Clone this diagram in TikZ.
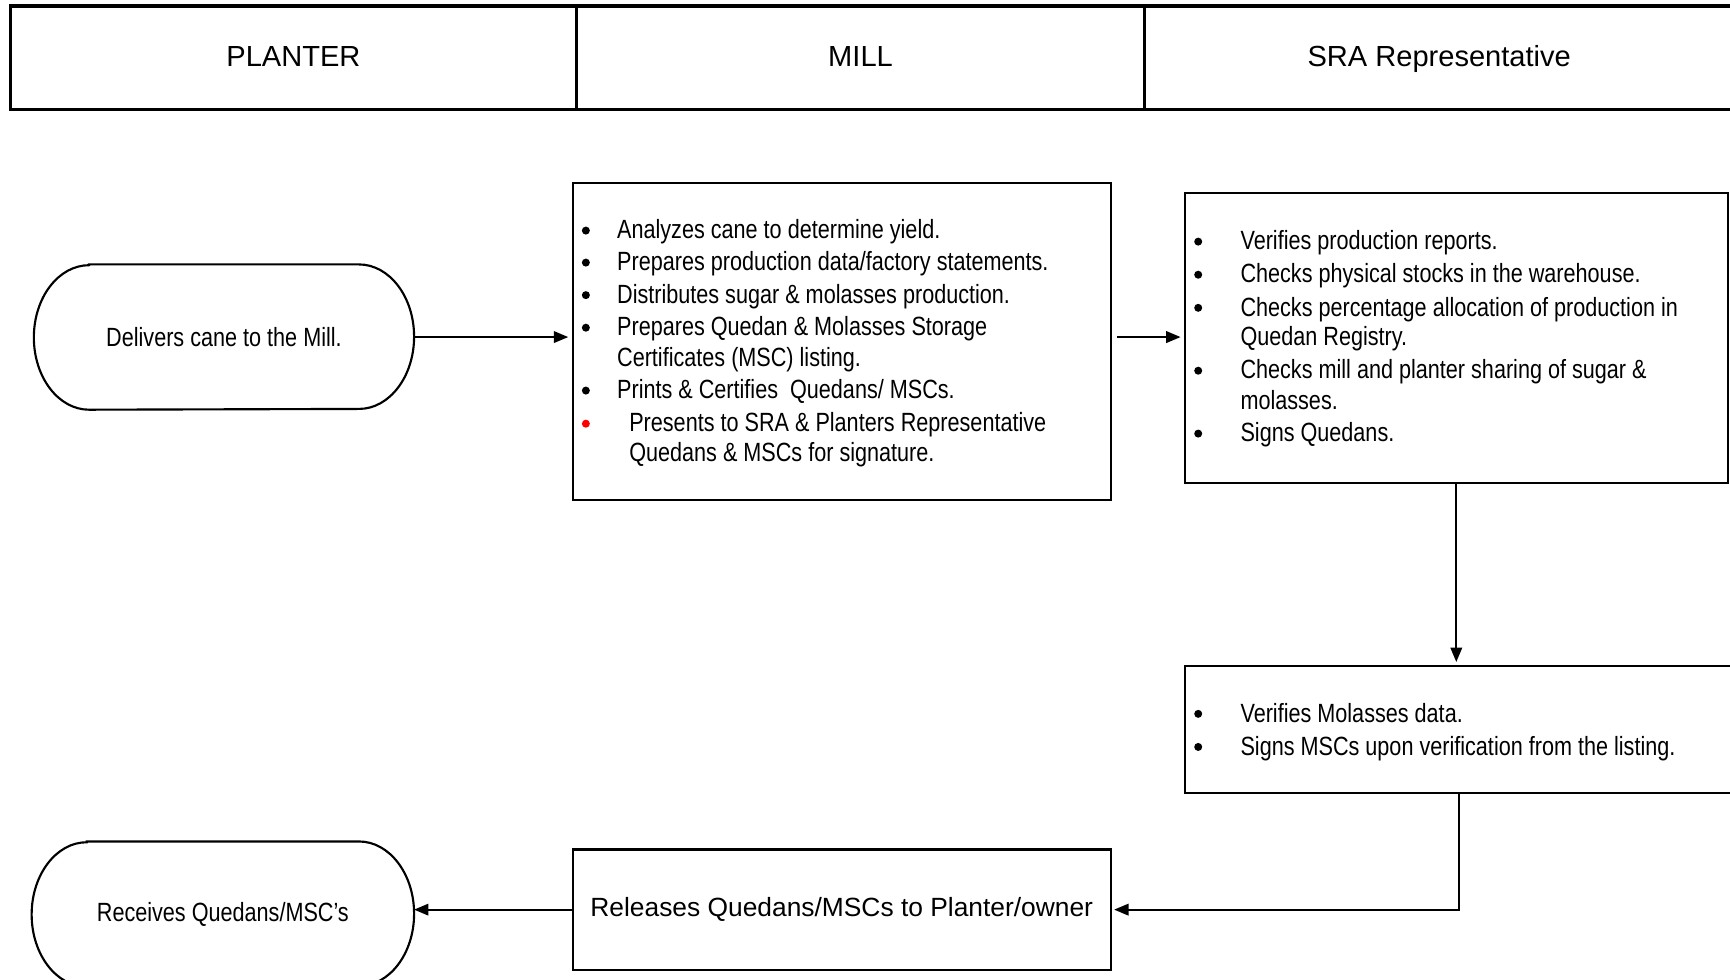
\documentclass[tikz,border=0pt]{standalone}
\usepackage{fontspec}
\setmainfont{Liberation Sans}
\newfontfamily\narrowfont{Liberation Sans}[FakeStretch=0.82]
\usetikzlibrary{arrows.meta}
\begin{document}
\begin{tikzpicture}[x=0.02cm,y=-0.02cm,
  hcell/.style={draw, line width=1.7pt, anchor=north west, inner sep=0pt, minimum height=1.88cm, text height=0.86em, text depth=0pt, font=\fontsize{15}{18}\selectfont},
  box/.style={draw, line width=1.1pt, anchor=north west, inner sep=0pt},
  term/.style={inner sep=0pt, font=\narrowfont\fontsize{13.6}{16}\selectfont},
  txt/.style={anchor=base west, inner sep=0pt, font=\narrowfont\fontsize{13.6}{16}\selectfont},
  dot/.style={circle, fill=black, inner sep=0pt, minimum size=0.145cm},
  reddot/.style={dot, fill=red},
  arr/.style={line width=0.9pt, -{Triangle[length=0.26cm,width=0.21cm]}},
  stadium/.style={line width=1.1pt}
]
\useasboundingbox (0,0) rectangle (1568,888);
\clip (0,0) rectangle (1568,888);

% header
\node[hcell, minimum width=10.26cm] (h1) at (8,4) {PLANTER};
\node[hcell, minimum width=10.3cm] (h2) at (521,4) {MILL};
\node[hcell, minimum width=10.68cm] (h3) at (1036,4) {SRA Representative};

% terminals
\node[term, minimum width=6.88cm, minimum height=2.62cm] (t1) at (203,305.5) {Delivers cane to the Mill.};
\draw[stadium] ([xshift=1.0cm]t1.north west) -- ([xshift=-1.0cm]t1.north east)
  arc[start angle=90, end angle=-90, x radius=1.0cm, y radius=1.31cm]
  -- ([xshift=1.0cm]t1.south west)
  arc[start angle=270, end angle=90, x radius=1.0cm, y radius=1.31cm] -- cycle;

\node[term, minimum width=6.92cm, minimum height=2.62cm] (t2) at (202,828.5) {Receives Quedans/MSC’s};
\draw[stadium] ([xshift=1.0cm]t2.north west) -- ([xshift=-1.0cm]t2.north east)
  arc[start angle=90, end angle=-90, x radius=1.0cm, y radius=1.31cm]
  -- ([xshift=1.0cm]t2.south west)
  arc[start angle=270, end angle=90, x radius=1.0cm, y radius=1.31cm] -- cycle;

% mill box
\node[box, minimum width=9.76cm, minimum height=5.74cm] (mill) at (518,165) {};
\node[dot] (mb1) at (531,209) {};
\node[dot] (mb2) at (531,238) {};
\node[dot] (mb3) at (531,267.5) {};
\node[dot] (mb4) at (531,297) {};
\node[dot] (mb5) at (531,354) {};
\node[reddot] (mb6) at (531,384) {};
\node[txt] (m1) at (559,216.5) {Analyzes cane to determine yield.};
\node[txt] (m2) at (559,245.5) {Prepares production data/factory statements.};
\node[txt] (m3) at (559,275) {Distributes sugar \& molasses production.};
\node[txt] (m4) at (559,304.5) {Prepares Quedan \& Molasses Storage};
\node[txt] (m5) at (559,332.5) {Certificates (MSC) listing.};
\node[txt] (m6) at (559,361.5) {Prints \& Certifies\ \ Quedans/ MSCs.};
\node[txt] (m7) at (570,391.5) {Presents to SRA \& Planters Representative};
\node[txt] (m8) at (570,418.5) {Quedans \& MSCs for signature.};

% SRA box 1
\node[box, minimum width=9.84cm, minimum height=5.26cm] (sra1) at (1073,174) {};
\node[dot] (sb1) at (1086,219) {};
\node[dot] (sb2) at (1086,249) {};
\node[dot] (sb3) at (1086,279) {};
\node[dot] (sb4) at (1086,336) {};
\node[dot] (sb5) at (1086,393) {};
\node[txt] (s1) at (1124,226.5) {Verifies production reports.};
\node[txt] (s2) at (1124,256.5) {Checks physical stocks in the warehouse.};
\node[txt] (s3) at (1124,286.5) {Checks percentage allocation of production in};
\node[txt] (s4) at (1124,313.5) {Quedan Registry.};
\node[txt] (s5) at (1124,343.5) {Checks mill and planter sharing of sugar \&};
\node[txt] (s6) at (1124,371.5) {molasses.};
\node[txt] (s7) at (1124,400.5) {Signs Quedans.};

% SRA box 2
\node[box, minimum width=9.94cm, minimum height=2.3cm] (sra2) at (1073,603) {};
\node[dot] (tb1) at (1086,647) {};
\node[dot] (tb2) at (1086,677) {};
\node[txt] (r1) at (1124,654.5) {Verifies Molasses data.};
\node[txt] (r2) at (1124,684.5) {Signs MSCs upon verification from the listing.};

% release box
\node[box, minimum width=9.76cm, minimum height=2.18cm, font=\fontsize{13.6}{16}\selectfont] (rel) at (518,769) {Releases Quedans/MSCs to Planter/owner};

% connectors
\draw[arr, shorten >=0.06cm] (t1.east) -- (t1.east -| mill.west);
\draw[arr, shorten <=0.1cm, shorten >=0.06cm] (t1.east -| mill.east) -- (t1.east -| sra1.west);
\draw[arr, shorten >=0.06cm] (sra1.south) -- (sra1.south |- sra2.north);
\draw[arr, shorten >=0.04cm] (sra2.south) |- (rel.east);
\draw[arr] (rel.west) -- (rel.west -| t2.east);
\end{tikzpicture}
\end{document}
